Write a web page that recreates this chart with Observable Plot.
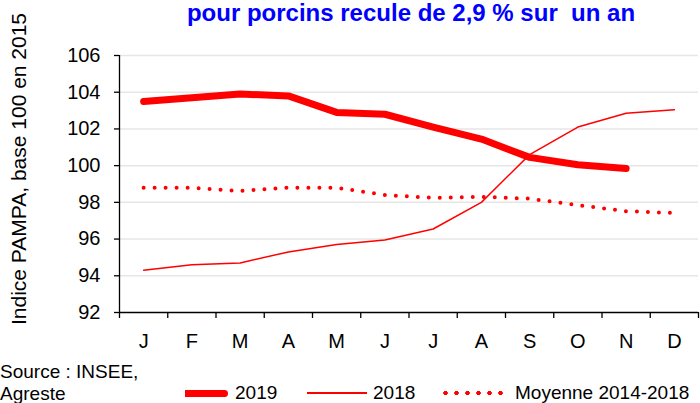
<!DOCTYPE html>
<html>
<head>
<meta charset="utf-8">
<script src="https://cdn.jsdelivr.net/npm/d3@7"></script>
<script src="https://cdn.jsdelivr.net/npm/@observablehq/plot@0.6"></script>
<style>
  html, body { margin: 0; padding: 0; background: #fff; }
  #wrap { position: relative; width: 700px; height: 403px; overflow: hidden;
          font-family: "Liberation Sans", Arial, sans-serif; color: #000; }
  #title { position: absolute; left: 411px; top: 1px; transform: translateX(-50%);
           font-size: 24px; line-height: 24px; font-weight: bold; color: #0000ff; white-space: pre; }
  .lg { position: absolute; font-size: 19px; line-height: 22px; white-space: pre; }
  .sw { position: absolute; background: #ff0000; }
  #dots { position: absolute; height: 6px;
          background-image: radial-gradient(circle, #ff0000 2px, rgba(255,0,0,0) 2.4px);
          background-size: 11px 6px; background-repeat: repeat-x; }
</style>
</head>
<body>
<div id="wrap">
  <div id="chart"></div>
  <div id="title">pour porcins recule de 2,9 % sur  un an</div>
  <div class="lg" style="left:0px; top:361px;">Source : INSEE,<br>Agreste</div>
  <div class="sw" style="left:185px; top:389.5px; width:43px; height:7px; border-radius:0 3.5px 3.5px 0;"></div>
  <div class="lg" style="left:235px; top:382px;">2019</div>
  <div class="sw" style="left:307px; top:392.3px; width:60px; height:1.5px;"></div>
  <div class="lg" style="left:373px; top:382px;">2018</div>
  <div id="dots" style="left:439.5px; top:390px; width:66px;"></div>
  <div class="lg" style="left:515px; top:382px;">Moyenne 2014-2018</div>
</div>
<script>
// ---- data ----
const months = ["J", "F", "M", "A", "M", "J", "J", "A", "S", "O", "N", "D"];
const values2019 = [103.5, 103.7, 103.9, 103.8, 102.9, 102.8, 102.1, 101.45, 100.45, 100.05, 99.85];
const values2018 = [94.3, 94.6, 94.7, 95.3, 95.7, 95.95, 96.55, 98.0, 100.6, 102.1, 102.85, 103.05];
const valuesMoyenne = [98.8, 98.8, 98.62, 98.8, 98.8, 98.4, 98.25, 98.3, 98.2, 97.85, 97.52, 97.42];
const yTicks = [92, 94, 96, 98, 100, 102, 104, 106];
const yLabel = "Indice PAMPA, base 100 en 2015";

const toRows = (arr) => arr.map((v, i) => ({ i, v }));
const rows2019 = toRows(values2019);
const rows2018 = toRows(values2018);
const rowsMoy = toRows(valuesMoyenne);
const monthIdx = months.map((_, i) => i);
const boundaries = d3.range(-0.5, months.length, 1);

const chart = Plot.plot({
  width: 700,
  height: 355,
  marginTop: 55,
  marginBottom: 43,
  marginLeft: 119,
  marginRight: 2,
  style: { fontFamily: "'Liberation Sans', Arial, sans-serif", fontSize: "20px", color: "#000", background: "transparent", overflow: "visible" },
  x: { type: "linear", domain: [-0.5, months.length - 0.5] },
  y: { domain: [92, 106] },
  marks: [
    Plot.gridY({ ticks: yTicks.filter(t => t > 92), stroke: "#e6e6e6", strokeOpacity: 1, strokeWidth: 1.5 }),
    Plot.ruleY([92], { stroke: "#000", strokeWidth: 1.3 }),
    Plot.ruleX([-0.5], { stroke: "#000", strokeWidth: 1.3 }),
    Plot.axisY({ ticks: yTicks, tickSize: 5, tickPadding: 14, fontSize: 20, stroke: "#000", strokeWidth: 1.3, label: null }),
    Plot.axisX({ ticks: boundaries, tickSize: 6, tickFormat: () => "", stroke: "#000", strokeWidth: 1.3, label: null }),
    Plot.axisX({ ticks: monthIdx, tickSize: 0, tickPadding: 21, tickFormat: i => months[i], fontSize: 20, label: null }),
    Plot.line(rowsMoy, { x: "i", y: "v", stroke: "#ff0000", strokeWidth: 4, strokeDasharray: "0,11", strokeLinecap: "round" }),
    Plot.line(rows2018, { x: "i", y: "v", stroke: "#ff0000", strokeWidth: 1.5 }),
    Plot.line(rows2019, { x: "i", y: "v", stroke: "#ff0000", strokeWidth: 7, strokeLinecap: "round", strokeLinejoin: "round" }),
    Plot.text([yLabel], { frameAnchor: "left", textAnchor: "middle", rotate: -90, dx: -100, dy: -15, fontSize: 21, fill: "#000" })
  ]
});
document.getElementById("chart").appendChild(chart);
</script>
</body>
</html>
